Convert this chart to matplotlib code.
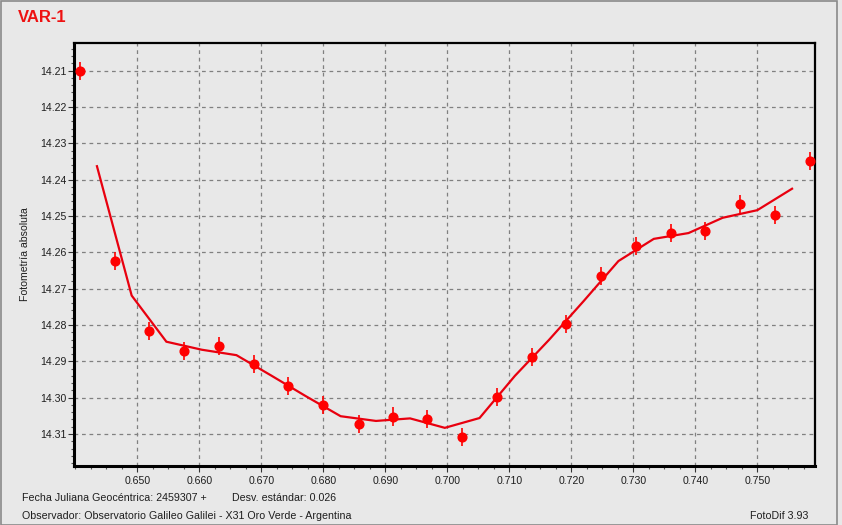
import matplotlib
matplotlib.use("Agg")
import matplotlib.pyplot as plt
from matplotlib.ticker import MultipleLocator, FormatStrFormatter
from matplotlib.patches import Rectangle

# ---- data ----
obs_x = [0.6408, 0.6464, 0.6519, 0.6575, 0.6632, 0.6688, 0.6743, 0.6799,
         0.6857, 0.6913, 0.6967, 0.7024, 0.7080, 0.7137, 0.7191, 0.7248,
         0.7304, 0.7361, 0.7416, 0.7472, 0.7528, 0.7585]
obs_y = [14.2101, 14.2623, 14.2816, 14.2871, 14.2857, 14.2907, 14.2968, 14.3020,
         14.3073, 14.3052, 14.3058, 14.3109, 14.2997, 14.2888, 14.2798, 14.2665,
         14.2583, 14.2547, 14.2541, 14.2466, 14.2497, 14.2348]
obs_err = [0.0025] * len(obs_x)

fit_x = [0.6435, 0.6491, 0.6547, 0.6604, 0.6660, 0.6716, 0.6771, 0.6828,
         0.6885, 0.6940, 0.6996, 0.7052, 0.7109, 0.7164, 0.7220, 0.7276,
         0.7333, 0.7389, 0.7444, 0.7500, 0.7556]
fit_y = [14.2363, 14.2719, 14.2846, 14.2868, 14.2883, 14.2939, 14.2995, 14.3051,
         14.3064, 14.3057, 14.3083, 14.3056, 14.2940, 14.2841, 14.2734, 14.2624,
         14.2563, 14.2547, 14.2505, 14.2484, 14.2425]

x_ticks = [0.650, 0.660, 0.670, 0.680, 0.690, 0.700, 0.710, 0.720, 0.730, 0.740, 0.750]
y_ticks = [14.21, 14.22, 14.23, 14.24, 14.25, 14.26, 14.27, 14.28, 14.29, 14.30, 14.31]

title = "VAR-1"
ylabel = "Fotometría absoluta"
info1 = "Fecha Juliana Geocéntrica: 2459307 +"
info2 = "Desv. estándar: 0.026"
info3 = "Observador: Observatorio Galileo Galilei - X31 Oro Verde - Argentina"
info4 = "FotoDif 3.93"

# ---- figure ----
W, H = 842, 525
bg = "#e8e8e8"
txt = "#1e1e1e"
plt.rcParams["font.family"] = ["Liberation Sans", "DejaVu Sans"]
fig = plt.figure(figsize=(W / 100, H / 100), dpi=100, facecolor=bg)

L, R, T, B = 74, 815, 43, 466
ax = fig.add_axes([L / W, 1 - B / H, (R - L) / W, (B - T) / H], facecolor=bg)

ax.set_xlim(0.6398, 0.7593)
ax.set_ylim(14.3188, 14.2024)

ax.plot(fit_x, fit_y, color="#e8000f", lw=1.6, zorder=3, solid_joinstyle="miter")
ax.errorbar(obs_x, obs_y, yerr=obs_err, fmt="o", color="#ff0000", ms=6.3,
            ecolor="#ff0000", elinewidth=1.2, capsize=0, zorder=4)

ax.set_xticks(x_ticks)
ax.set_yticks(y_ticks)
ax.xaxis.set_major_formatter(FormatStrFormatter("%.3f"))
ax.yaxis.set_major_formatter(FormatStrFormatter("%.2f"))
ax.xaxis.set_minor_locator(MultipleLocator(0.0025))
ax.yaxis.set_minor_locator(MultipleLocator(0.002))
ax.tick_params(which="major", direction="out", length=4, width=0.8, color="#333333",
               labelsize=7.6, labelcolor=txt)
ax.tick_params(axis="y", which="major", pad=1.5)
ax.tick_params(axis="x", which="major", pad=3.5)
ax.tick_params(which="minor", direction="out", length=2, width=0.8, color="#555555")

ax.grid(True, which="major", color="#808080", lw=0.9, linestyle=(0, (3, 3)))
ax.set_axisbelow(True)

for s in ["left", "bottom"]:
    ax.spines[s].set_linewidth(2.2)
for s in ["top", "right"]:
    ax.spines[s].set_linewidth(1.6)
for s in ax.spines.values():
    s.set_color("black")

ax.set_ylabel(ylabel, fontsize=7.6, color=txt)
ax.yaxis.set_label_coords(-44 / (R - L), 0.5)

fig.text(18 / W, 1 - 17 / H, title, color="#ee1111", fontsize=12, fontweight="bold",
         va="center", ha="left")
fig.text(22 / W, 1 - 498 / H, info1, fontsize=7.7, color=txt, va="center")
fig.text(232 / W, 1 - 498 / H, info2, fontsize=7.7, color=txt, va="center")
fig.text(22 / W, 1 - 516 / H, info3, fontsize=7.7, color=txt, va="center")
fig.text(808 / W, 1 - 516 / H, info4, fontsize=7.7, color=txt, va="center",
         ha="right")

# window border
fig.patches.append(Rectangle((0.5 / W, 0), 836.5 / W, 1 - 1 / H, transform=fig.transFigure,
                             fill=False, edgecolor="#8a8a8a", lw=1.2))

fig.savefig("out.png", dpi=100, facecolor=bg)
